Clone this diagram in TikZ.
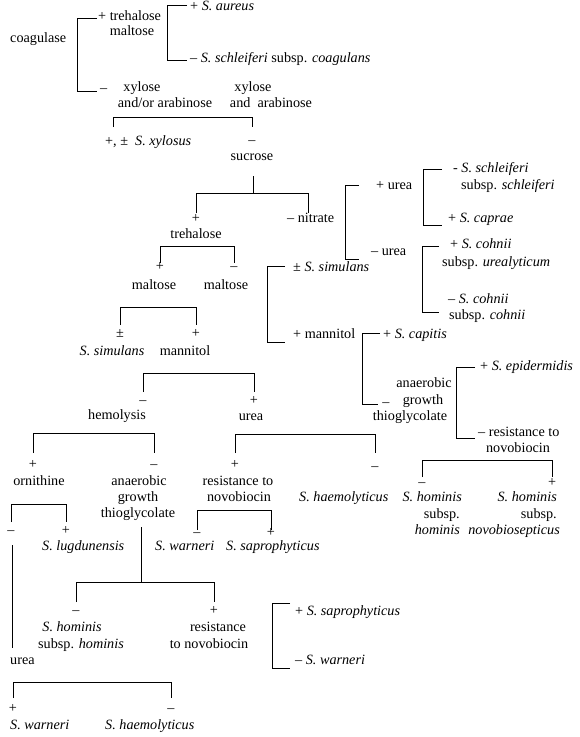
\documentclass[tikz,border=0pt]{standalone}
\usepackage{fontspec}
\setmainfont{Liberation Serif}
\begin{document}
\begin{tikzpicture}[x=1pt,y=-1pt,
  txt/.style={inner sep=0pt,font=\fontsize{14.2}{17}\selectfont},
  lw/.style={txt,anchor=mid west},
  lc/.style={txt,anchor=mid},
  le/.style={txt,anchor=mid east},
  br/.style={line width=0.9pt,line join=miter}]
\path[use as bounding box] (0,0) rectangle (580,737);
% ---------- top ----------
\node[lw] (coag) at (10,40) {coagulase};
\coordinate (A1) at (97,18); \coordinate (A2) at (97,91);
\draw[br] (A1) -- (77,18) -- (77,91) -- (A2);
\node[lw] (trh) at (98,18) {+ trehalose};
\node[lc] (mal0) at (132,33) {maltose};
\coordinate (B1) at (187,5); \coordinate (B2) at (187,60);
\draw[br] (B1) -- (167,5) -- (167,60) -- (B2);
\node[lw] (aur) at (190,8) {+ \textit{S. aureus}};
\node[lw] (sch) at (190,60) {– \textit{S. schleiferi} subsp. \textit{coagulans}};
\node[lw] (xmin) at (100,90) {–};
\node[lc] (xyl1) at (142,89) {xylose};
\node[lc] (xyl1b) at (165,105) {and/or arabinose};
\node[lc] (xyl2) at (253,89) {xylose};
\node[lc] (xyl2b) at (271,105) {and\ \ arabinose};
\coordinate (C1) at (113,127); \coordinate (C2) at (252,127);
\draw[br] (C1) -- (113,117) -- (252,117) -- (C2);
\node[lw] (xylos) at (105,143) {+, ±\ \ \textit{S. xylosus}};
\node[lc] (sucm) at (252,142) {–};
\node[lc] (suc) at (252,158) {sucrose};
\coordinate (D0) at (253,176);
\coordinate (D1) at (196,213); \coordinate (D2) at (308,213);
\draw[br] (D0) -- (253,193);
\draw[br] (D1) -- (196,193) -- (308,193) -- (D2);
\node[lc] (p1) at (196,220) {+};
\node[lc] (tre) at (196,236) {trehalose};
\node[lw] (nit) at (287,220) {– nitrate};
\coordinate (E1) at (160,263); \coordinate (E2) at (234,263);
\draw[br] (E1) -- (160,246) -- (234,246) -- (E2);
\node[lc] (p2) at (160,268) {+};
\node[lc] (m1) at (154,287) {maltose};
\node[lc] (m2m) at (234,268) {–};
\node[lc] (m2) at (226,287) {maltose};
\coordinate (F1) at (120,325); \coordinate (F2) at (196,325);
\draw[br] (F1) -- (120,307) -- (196,307) -- (F2);
\node[lc] (pm) at (120,335) {±};
\node[lc] (p3) at (196,335) {+};
\node[lc] (sim) at (112,353) {\textit{S. simulans}};
\node[lc] (man) at (185,353) {mannitol};
% ---------- right column ----------
\coordinate (G1) at (359,185); \coordinate (G2) at (359,259);
\draw[br] (G1) -- (345,185) -- (345,259) -- (G2);
\node[lw] (ureap) at (376,187) {+ urea};
\node[lw] (uream) at (371,253) {– urea};
\coordinate (H1) at (442,169); \coordinate (H2) at (442,225);
\draw[br] (H1) -- (423,169) -- (423,225) -- (H2);
\node[lw] (sch2) at (453,170) {-~\textit{S. schleiferi}};
\node[lw] (sch2b) at (461,187) {subsp. \textit{schleiferi}};
\node[lw] (cap) at (448,220) {+ \textit{S. caprae}};
\coordinate (I1) at (439,246); \coordinate (I2) at (439,312);
\draw[br] (I1) -- (422,246) -- (422,312) -- (I2);
\node[lw] (coh1) at (450,246) {+ \textit{S. cohnii}};
\node[lw] (coh1b) at (442,264) {subsp. \textit{urealyticum}};
\node[lw] (coh2) at (448,301) {– \textit{S. cohnii}};
\node[lw] (coh2b) at (449,317) {subsp. \textit{cohnii}};
\coordinate (J1) at (285,266); \coordinate (J2) at (285,342);
\draw[br] (J1) -- (267,266) -- (267,342) -- (J2);
\node[lw] (sim2) at (293,269) {± \textit{S. simulans}};
\node[lw] (man2) at (293,336) {+ mannitol};
\coordinate (K1) at (380,333); \coordinate (K2) at (378,404);
\draw[br] (K1) -- (362,333) -- (362,404) -- (K2);
\node[lw] (capit) at (383,336) {+ \textit{S. capitis}};
\node[lc] (ana) at (424,385) {anaerobic};
\node[lc] (gm) at (386,404) {–};
\node[lc] (gro) at (423,402) {growth};
\node[lc] (thio) at (410,418) {thioglycolate};
\coordinate (L1) at (475,367); \coordinate (L2) at (475,438);
\draw[br] (L1) -- (456,367) -- (456,438) -- (L2);
\node[lw] (epi) at (480,368) {+ \textit{S. epidermidis}};
\node[lw] (res) at (478,434) {– resistance to};
\node[lc] (nov) at (518,450) {novobiocin};
\coordinate (M1) at (422,477); \coordinate (M2) at (552,477);
\draw[br] (M1) -- (422,460) -- (552,460) -- (M2);
\node[lc] (hm) at (422,484) {–};
\node[lc] (hp) at (552,484) {+};
\node[le] (h1a) at (462,499) {\textit{S. hominis}};
\node[le] (h1b) at (460,516) {subsp.};
\node[le] (h1c) at (460,532) {\textit{hominis}};
\node[le] (h2a) at (557,499) {\textit{S. hominis}};
\node[le] (h2b) at (557,516) {subsp.};
\node[le] (h2c) at (560,532) {\textit{novobiosepticus}};
% ---------- middle ----------
\coordinate (N1) at (143,392); \coordinate (N2) at (254,392);
\draw[br] (N1) -- (143,373) -- (254,373) -- (N2);
\node[lc] (hemm) at (143,402) {–};
\node[lc] (hem) at (117,417) {hemolysis};
\node[lc] (urp) at (254,402) {+};
\node[lc] (ure) at (251,418) {urea};
\coordinate (O1) at (235,453); \coordinate (O2) at (375,453);
\draw[br] (O1) -- (235,434) -- (375,434) -- (O2);
\node[lc] (rp) at (235,466) {+};
\node[lc] (r1) at (238,483) {resistance to};
\node[lc] (r2) at (239,499) {novobiocin};
\node[lc] (hmm2) at (375,468) {–};
\node[lw] (hae) at (299,499) {\textit{S. haemolyticus}};
\coordinate (P1) at (197,530); \coordinate (P2) at (271,530);
\draw[br] (P1) -- (197,510) -- (271,510) -- (P2);
\node[lc] (wm) at (197,534) {–};
\node[lc] (spp) at (271,534) {+};
\node[lw] (war) at (155,548) {\textit{S. warneri}};
\node[lw] (sap) at (226,548) {\textit{S. saprophyticus}};
% ---------- lower left ----------
\coordinate (Q1) at (33,453); \coordinate (Q2) at (154,453);
\draw[br] (Q1) -- (33,433) -- (154,433) -- (Q2);
\node[lc] (op) at (33,466) {+};
\node[lc] (orn) at (39,483) {ornithine};
\node[lc] (am) at (154,466) {–};
\node[lc] (ana2) at (139,483) {anaerobic};
\node[lc] (gro2) at (138,499) {growth};
\node[lc] (thio2) at (138,515) {thioglycolate};
\coordinate (R1) at (11,522); \coordinate (R2) at (66,522);
\draw[br] (R1) -- (11,504) -- (66,504) -- (R2);
\node[lc] (om) at (11,532) {–};
\node[lc] (opp) at (66,532) {+};
\node[lw] (lug) at (42,548) {\textit{S. lugdunensis}};
\coordinate (V1) at (12,545); \coordinate (V2) at (12,648);
\draw[br] (V1) -- (V2);
\node[lw] (urea2) at (10,662) {urea};
\coordinate (S0) at (141,527);
\coordinate (S1) at (76,602); \coordinate (S2) at (214,602);
\draw[br] (S0) -- (141,582);
\draw[br] (S1) -- (76,582) -- (214,582) -- (S2);
\node[lc] (hm3) at (76,612) {–};
\node[lc] (hom3) at (72,629) {\textit{S. hominis}};
\node[lc] (hom3b) at (81,646) {subsp. \textit{hominis}};
\node[lc] (rp3) at (214,612) {+};
\node[lc] (res3) at (218,629) {resistance};
\node[lc] (res3b) at (209,646) {to novobiocin};
\coordinate (T1) at (290,603); \coordinate (T2) at (290,668);
\draw[br] (T1) -- (272,603) -- (272,668) -- (T2);
\node[lw] (sap2) at (295,613) {+ \textit{S. saprophyticus}};
\node[lw] (war2) at (295,662) {– \textit{S. warneri}};
\coordinate (U1) at (13,698); \coordinate (U2) at (171,698);
\draw[br] (U1) -- (13,682) -- (171,682) -- (U2);
\node[lc] (up) at (13,710) {+};
\node[lc] (um) at (171,710) {–};
\node[lw] (war3) at (10,727) {\textit{S. warneri}};
\node[lw] (hae3) at (105,727) {\textit{S. haemolyticus}};
\end{tikzpicture}
\end{document}
